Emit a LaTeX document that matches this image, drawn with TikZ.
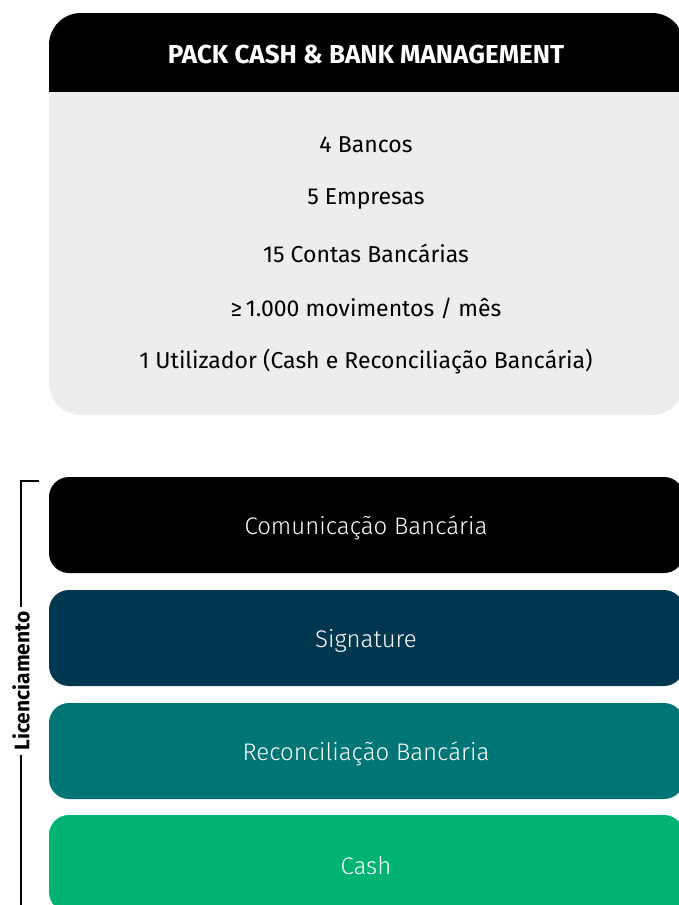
\documentclass[tikz,border=0pt]{standalone}
\usepackage{fontspec}
\setmainfont{Fira Sans}
\newfontfamily\lightfont{Fira Sans Light}
\definecolor{cardgray}{HTML}{EDEDED}
\definecolor{navy}{HTML}{003750}
\definecolor{teal}{HTML}{007575}
\definecolor{green}{HTML}{00B373}
\begin{document}
\begin{tikzpicture}[x=1pt,y=-1pt,
  cardtext/.style={font=\fontsize{23}{26}\selectfont, text=black},
  stackbox/.style={rounded corners=20pt},
  stacklabel/.style={font=\lightfont\fontsize{24}{27}\selectfont, text=white},
  bracket/.style={line width=1.2pt, black}]
\useasboundingbox (0,0) rectangle (678,905);
% top card
\fill[cardgray, rounded corners=32pt] (49,13) rectangle (684,415);
\begin{scope}
  \clip[rounded corners=32pt] (49,13) rectangle (684,415);
  \fill[black] (49,13) rectangle (684,92);
\end{scope}
\node[font=\bfseries\fontsize{26}{30}\selectfont, text=white] (head) at (366,54) {PACK CASH \& BANK MANAGEMENT};
\node[cardtext] (l1) at (366,145) {4 Bancos};
\node[cardtext] (l2) at (366,199) {5 Empresas};
\node[cardtext] (l3) at (366,253) {15 Contas Bancárias};
\node[cardtext] (l4) at (366,308) {≥\,1.000 movimentos / mês};
\node[cardtext] (l5) at (366,362) {1 Utilizador (Cash e Reconciliação Bancária)};
% stack
\fill[black, stackbox] (49,477) rectangle (684,573);
\fill[navy, stackbox] (49,590) rectangle (684,686);
\fill[teal, stackbox] (49,703) rectangle (684,799);
\fill[green, stackbox] (49,815) rectangle (684,912);
\node[stacklabel] (b1) at (366,528) {Comunicação Bancária};
\node[stacklabel] (b2) at (366,641) {Signature};
\node[stacklabel] (b3) at (366,754) {Reconciliação Bancária};
\node[stacklabel] (b4) at (366,866) {Cash};
% bracket
\node[rotate=90, font=\bfseries\fontsize{21}{24}\selectfont, inner sep=4pt] (lic) at (21,681) {Licenciamento};
\coordinate (btop) at (21,481);
\coordinate (btick) at (39,481);
\coordinate (bbot) at (21,906);
\draw[bracket] (btick) -- (btop) -- (lic.east);
\draw[bracket] (lic.west) -- (bbot);
\end{tikzpicture}
\end{document}
